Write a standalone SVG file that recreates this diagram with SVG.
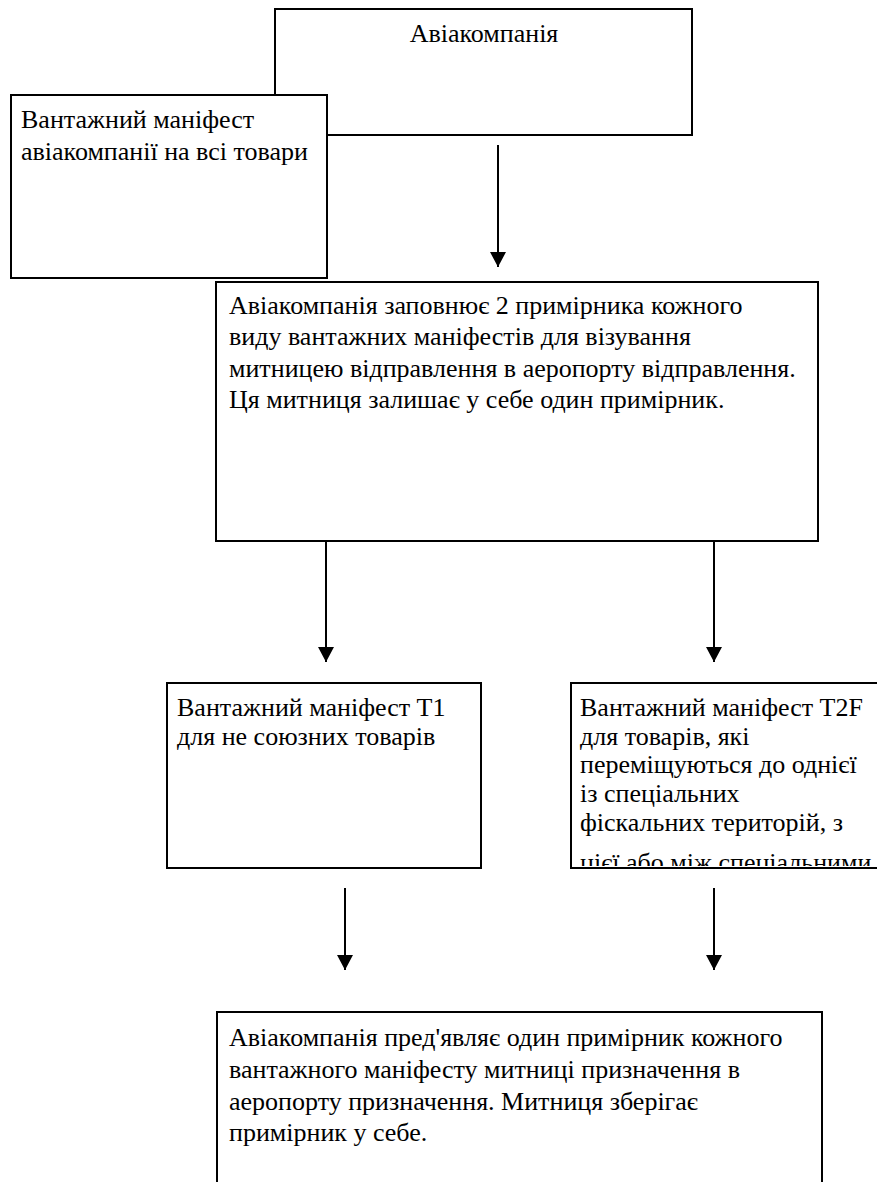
<svg xmlns="http://www.w3.org/2000/svg" width="877" height="1182" viewBox="0 0 877 1182">
<style>
.box{fill:#fff;stroke:#000;stroke-width:2}
text{font-family:"Liberation Serif","Times New Roman",serif;font-size:26px;fill:#000}
.c{stroke:#000;stroke-width:2;fill:none}
</style>
<defs>
<marker id="ah" markerWidth="16" markerHeight="16" refX="15" refY="8" orient="auto" markerUnits="userSpaceOnUse" viewBox="0 0 16 16">
<path d="M0,0 L15,8 L0,16 Z" fill="#000"/>
</marker>
<clipPath id="clipT2F"><rect x="572" y="684" width="310" height="182"/></clipPath>
</defs>
<rect width="877" height="1182" fill="#fff"/>
<g id="airline">
<rect class="box" x="275" y="9" width="417" height="126"/>
<text x="484" y="42" text-anchor="middle">Авіакомпанія</text>
</g>
<g id="manifest-all">
<rect class="box" x="11" y="95" width="316" height="183"/>
<text x="21" y="128">Вантажний маніфест</text>
<text x="21" y="160">авіакомпанії на всі товари</text>
</g>
<g id="fill-manifests">
<rect class="box" x="216" y="282" width="602" height="259"/>
<text x="229" y="314">Авіакомпанія заповнює 2 примірника кожного</text>
<text x="229" y="345">виду вантажних маніфестів для візування</text>
<text x="229" y="377">митницею відправлення в аеропорту відправлення.</text>
<text x="229" y="408">Ця митниця залишає у себе один примірник.</text>
</g>
<g id="manifest-t1">
<rect class="box" x="167" y="683" width="314" height="185"/>
<text x="177" y="716">Вантажний маніфест Т1</text>
<text x="177" y="745">для не союзних товарів</text>
</g>
<g id="manifest-t2f">
<rect class="box" x="571" y="683" width="320" height="185"/>
<g clip-path="url(#clipT2F)">
<text x="580" y="716">Вантажний маніфест T2F</text>
<text x="580" y="745">для товарів, які</text>
<text x="580" y="773">переміщуються до однієї</text>
<text x="580" y="802">із спеціальних</text>
<text x="580" y="831">фіскальних територій, з</text>
<text x="580" y="871">цієї або між спеціальними</text>
</g>
</g>
<g id="present-manifest">
<rect class="box" x="217" y="1012" width="605" height="200"/>
<text x="229" y="1046">Авіакомпанія пред'являє один примірник кожного</text>
<text x="229" y="1078">вантажного маніфесту митниці призначення в</text>
<text x="229" y="1110">аеропорту призначення. Митниця зберігає</text>
<text x="229" y="1141">примірник у себе.</text>
</g>
<g id="connectors">
<line class="c" x1="498" y1="145" x2="498" y2="267" marker-end="url(#ah)"/>
<line class="c" x1="326" y1="541" x2="326" y2="662" marker-end="url(#ah)"/>
<line class="c" x1="714" y1="541" x2="714" y2="662" marker-end="url(#ah)"/>
<line class="c" x1="345" y1="888" x2="345" y2="970" marker-end="url(#ah)"/>
<line class="c" x1="714" y1="888" x2="714" y2="970" marker-end="url(#ah)"/>
</g>
</svg>
